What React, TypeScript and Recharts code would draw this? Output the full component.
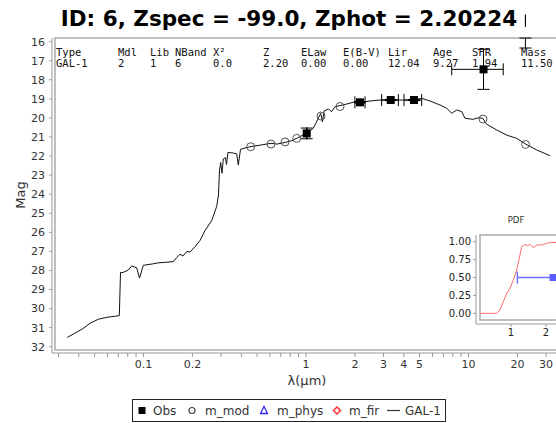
import React from "react";
import { ComposedChart, Line, Scatter, XAxis, YAxis, ErrorBar, ReferenceArea } from "recharts";

// best-fit template GAL-1 (lambda in micron, AB mag)
const specLambda = [
  0.034, 0.0426, 0.0469, 0.0527, 0.0594, 0.071, 0.0722, 0.0751, 0.0806, 0.0846,
  0.0908, 0.0945, 0.0997, 0.1149, 0.1233, 0.1526, 0.1601, 0.1677, 0.175, 0.1845,
  0.1933, 0.2074, 0.2227, 0.239, 0.2628, 0.2822, 0.2894, 0.2936, 0.2986, 0.3042,
  0.3098, 0.3196, 0.3242, 0.3311, 0.3568, 0.3746, 0.3832, 0.3953, 0.4274, 0.4587,
  0.5285, 0.609, 0.663, 0.7478, 0.8166, 0.8767, 0.9186, 1.01, 1.109, 1.19,
  1.232, 1.263, 1.291, 1.371, 1.439, 1.508, 1.603, 1.78, 2.002, 2.149,
  2.476, 2.853, 3.321, 3.97, 4.62, 5.152, 5.797, 6.676, 7.34, 7.883,
  8.459, 9.083, 9.517, 10.7, 11.49, 12.23, 12.94, 14.91, 17.18, 19.8,
  22.59, 26.29, 31.74,
];
const specMag = [
  31.51, 31.04, 30.77, 30.56, 30.46, 30.37, 28.11, 28.1, 27.98, 27.76,
  27.86, 28.4, 27.73, 27.65, 27.6, 27.54, 27.32, 27.15, 27.24, 27.01,
  27.03, 26.76, 26.43, 25.91, 25.38, 24.64, 24.04, 22.73, 22.34, 22.9,
  22.15, 22.08, 22.44, 21.81, 21.84, 21.88, 22.47, 21.65, 21.56, 21.5,
  21.42, 21.33, 21.37, 21.28, 21.19, 21.07, 20.98, 20.81, 20.54, 20.02,
  19.76, 20.21, 19.64, 19.53, 19.67, 19.41, 19.36, 19.27, 19.15, 19.18,
  19.11, 19.06, 19.06, 19.06, 19.06, 18.97, 19.11, 19.32, 19.49, 19.76,
  19.58, 19.67, 20.02, 20.07, 19.99, 20.02, 20.33, 20.63, 20.9, 21.07,
  21.38, 21.68, 21.98,
];

// model magnitudes
const modLambda = [0.4567, 0.609, 0.743, 0.877, 1.237, 1.619, 12.28, 22.43];
const modMag = [21.51, 21.37, 21.26, 21.07, 19.9, 19.4, 20.06, 21.39];

// observed magnitudes (last one lies above the plotted range, only its bar shows)
const obsLambda = [1.01, 2.149, 3.321, 4.62, 12.37, 22.4];
const obsMag = [20.81, 19.18, 19.06, 19.06, 17.45, 14.9];
const obsErrLambda = [[0, 0], [0.15, 0.16], [0.4, 0.38], [0.61, 0.53], [4.49, 3.98], [0, 0]];
const obsErrMag = [[0.28, 0.28], [0.03, 0.03], [0.03, 0.03], [0.03, 0.03], [1.05, 1.05], [-0.91, 1.43]];

// redshift PDF (cumulative)
const pdfZ = [0.114, 0.59, 0.686, 0.78, 0.877, 0.971, 1.066, 1.163, 1.237, 1.306, 1.4, 1.466, 1.543, 1.637, 1.734, 1.877, 2.02, 2.163, 2.29];
const pdfProb = [0, 0, 0.046, 0.162, 0.279, 0.349, 0.465, 0.605, 0.768, 0.93, 0.964, 0.944, 0.964, 0.916, 0.954, 0.954, 0.978, 0.992, 0.99];
const zPhot = 2.20224;
const zErr = [1.02, 2.0];

const xTicks = [
  0.03, 0.04, 0.05, 0.06, 0.07, 0.08, 0.09,
  0.1, 0.2, 0.3, 0.4, 0.5, 0.6, 0.7, 0.8, 0.9,
  1, 2, 3, 4, 5, 6, 7, 8, 9,
  10, 20, 30,
];
const xLabeled = [0.1, 0.2, 1, 2, 3, 4, 5, 10, 20, 30];
const yTicks = [16, 17, 18, 19, 20, 21, 22, 23, 24, 25, 26, 27, 28, 29, 30, 31, 32];
const pdfYTicks = [0, 0.25, 0.5, 0.75, 1];
const pdfXTicks = [1, 2];

const tableHead = ["Type", "Mdl", "Lib", "NBand", "X²", "Z", "ELaw", "E(B-V)", "Lir", "Age", "SFR", "Mass"];
const tableRow = ["GAL-1", "2", "1", "6", "0.0", "2.20", "0.00", "0.00", "12.04", "9.27", "1.94", "11.50"];
const colX = [56, 118, 150, 175, 213, 263, 301, 343, 388, 433, 472, 521];

const spec = specLambda.map((l, i) => ({ l, m: specMag[i] }));
const mod = modLambda.map((l, i) => ({ l, m: modMag[i] }));
const obs = obsLambda.map((l, i) => ({ l, m: obsMag[i], ex: obsErrLambda[i], ey: obsErrMag[i] }));
const pdf = pdfZ.map((z, i) => ({ z, p: pdfProb[i] }));
const zBest = [{ z: zPhot, p: 0.5, ez: zErr }];

const tickFont = { fontSize: 11, fill: "#333", fontFamily: "DejaVu Sans" };

const OpenCircle = (p: any) => <circle cx={p.cx} cy={p.cy} r={4} fill="none" stroke="#555" strokeWidth={1} />;
const FilledSquare = (p: any) => <rect x={p.cx - 4} y={p.cy - 4} width={8} height={8} fill="#000" />;
const BlueSquare = (p: any) => <rect x={p.cx - 3.5} y={p.cy - 3.5} width={7} height={7} fill="#5b5bff" />;

export default function App() {
  return (
    <div style={{ position: "fixed", left: 0, top: 0, width: 556, height: 423, overflow: "hidden", background: "#fff" }}>
      <ComposedChart width={620} height={423} margin={{ top: 38, right: 0, bottom: 40, left: 0 }}>
        <ReferenceArea x1={0.02853} x2={85.5} y1={15.806} y2={32.17} fill="none" stroke="#aaa" strokeWidth={1.5} ifOverflow="visible" />
        <XAxis
          dataKey="l"
          type="number"
          scale="log"
          domain={[0.02735, 85.55]}
          allowDataOverflow
          ticks={xTicks}
          interval={0}
          tickFormatter={(v: number) => (xLabeled.includes(v) ? String(v) : "")}
          tickSize={4}
          tickMargin={3}
          height={30}
          stroke="#999"
          tick={tickFont}
        />
        <YAxis
          dataKey="m"
          type="number"
          domain={[15.806, 32.33]}
          reversed
          allowDataOverflow
          ticks={yTicks}
          interval={0}
          width={52}
          tickSize={3}
          tickMargin={4}
          stroke="#999"
          tick={tickFont}
        />
        <Line data={spec} dataKey="m" type="linear" stroke="#111" strokeWidth={1} dot={false} isAnimationActive={false} />
        <Scatter data={mod} shape={OpenCircle} isAnimationActive={false} />
        <Scatter data={obs} shape={FilledSquare} isAnimationActive={false}>
          <ErrorBar dataKey="ey" direction="y" stroke="#000" width={6} strokeWidth={1} />
          <ErrorBar dataKey="ex" direction="x" stroke="#000" width={6} strokeWidth={1} />
        </Scatter>
      </ComposedChart>

      <div style={{ position: "absolute", left: 436, top: 212 }}>
        <ComposedChart width={215} height={140} margin={{ top: 23, right: 0, bottom: 12, left: 0 }}>
          <ReferenceArea x1={0.114} x2={5} y1={-0.094} y2={1.094} fill="none" stroke="#aaa" strokeWidth={1.5} ifOverflow="visible" />
          <XAxis
            dataKey="z"
            type="number"
            domain={[0, 5]}
            ticks={pdfXTicks}
            interval={0}
            height={16}
            tickSize={3}
            tickMargin={2}
            stroke="#999"
            tick={{ fontSize: 10, fill: "#222", fontFamily: "DejaVu Sans" }}
          />
          <YAxis
            dataKey="p"
            type="number"
            domain={[-0.149, 1.094]}
            ticks={pdfYTicks}
            interval={0}
            tickFormatter={(v: number) => v.toFixed(2)}
            width={40}
            tickSize={3}
            tickMargin={2}
            stroke="#999"
            tick={{ fontSize: 10, fill: "#222", fontFamily: "DejaVu Sans" }}
          />
          <Line data={pdf} dataKey="p" type="linear" stroke="#ff6b6b" strokeWidth={1} dot={false} isAnimationActive={false} />
          <Scatter data={zBest} shape={BlueSquare} isAnimationActive={false}>
            <ErrorBar dataKey="ez" direction="x" stroke="#6f6fff" width={6} strokeWidth={1.5} />
          </Scatter>
        </ComposedChart>
      </div>

      <svg width={556} height={423} style={{ position: "absolute", left: 0, top: 0, pointerEvents: "none" }}>
        <text x={289} y={26} textAnchor="middle" fontFamily="DejaVu Sans" fontWeight="bold" fontSize={21.5} fill="#000">
          ID: 6, Zspec = -99.0, Zphot = 2.20224
        </text>
        {tableHead.map((h, i) => (
          <text key={"h" + i} x={colX[i]} y={55.5} fontFamily="DejaVu Sans Mono" fontSize={10.5} fill="#111">{h}</text>
        ))}
        {tableRow.map((v, i) => (
          <text key={"v" + i} x={colX[i]} y={67} fontFamily="DejaVu Sans Mono" fontSize={10.5} fill="#111">{v}</text>
        ))}
        <text x={20} y={195} transform="rotate(-90 20 195)" textAnchor="middle" dominantBaseline="central" fontFamily="DejaVu Sans" fontSize={13} fill="#333">Mag</text>
        <text x={307} y={385} textAnchor="middle" fontFamily="DejaVu Sans" fontSize={13} fill="#333">λ(μm)</text>
        <text x={516} y={223} textAnchor="middle" fontFamily="DejaVu Sans" fontSize={8.5} fill="#333">PDF</text>

        <rect x={132.5} y={399.5} width={313} height={22} fill="none" stroke="#222" strokeWidth={1} />
        <rect x={138.5} y={407} width={7} height={7} fill="#000" />
        <text x={153} y={415} fontFamily="DejaVu Sans" fontSize={12} fill="#333">Obs</text>
        <circle cx={192} cy={410.5} r={3} fill="none" stroke="#444" strokeWidth={1.2} />
        <text x={205} y={415} fontFamily="DejaVu Sans" fontSize={12} fill="#333">m_mod</text>
        <polygon points="264,406.5 260.5,413.5 267.5,413.5" fill="none" stroke="#2b2bff" strokeWidth={1.3} />
        <text x={277} y={415} fontFamily="DejaVu Sans" fontSize={12} fill="#333">m_phys</text>
        <polygon points="337,407 340.5,410.5 337,414 333.5,410.5" fill="none" stroke="#ff3030" strokeWidth={1.5} />
        <text x={349} y={415} fontFamily="DejaVu Sans" fontSize={12} fill="#333">m_fir</text>
        <line x1={387} y1={410.5} x2={400} y2={410.5} stroke="#333" strokeWidth={1.2} />
        <text x={405} y={415} fontFamily="DejaVu Sans" fontSize={12} fill="#333">GAL-1</text>
      </svg>
    </div>
  );
}
